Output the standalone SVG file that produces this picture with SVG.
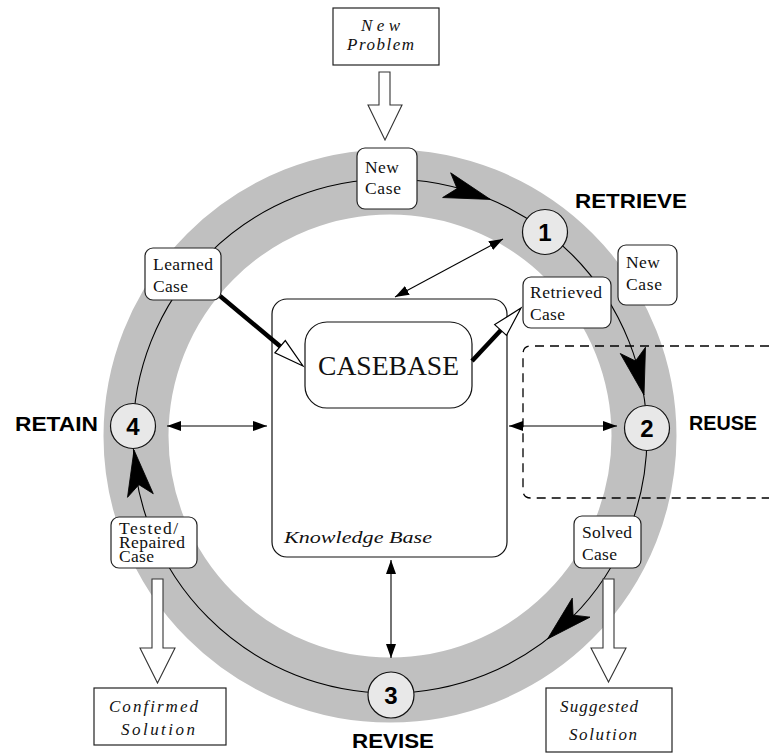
<svg xmlns="http://www.w3.org/2000/svg" width="769" height="753" viewBox="0 0 769 753">
  <style>
    .band { fill: none; stroke: #c0c0c0; stroke-width: 65; }
    .cycle { fill: none; stroke: #000; stroke-width: 1.1; }
    .cyc-head { fill: #000; stroke: #000; stroke-width: 0.8; stroke-linejoin: miter; }
    .case { fill: #fff; stroke: #222; stroke-width: 1.2; }
    .case-text { font-family: "Liberation Serif", "Times New Roman", serif; font-size: 17.5px; fill: #111; }
    .io { fill: #fff; stroke: #222; stroke-width: 1.2; }
    .io-text { font-family: "Liberation Serif", "Times New Roman", serif; font-style: italic; font-size: 17px; fill: #111; }
    .block { fill: #fff; stroke: #333; stroke-width: 1.1; stroke-linejoin: miter; }
    .step { fill: #e8e8e8; stroke: #111; stroke-width: 1.2; }
    .step-num { font-family: "Liberation Sans", Arial, sans-serif; font-weight: bold; font-size: 24px; fill: #000; text-anchor: middle; }
    .phase { font-family: "Liberation Sans", Arial, sans-serif; font-weight: bold; font-size: 21px; fill: #000; }
    .link { fill: none; stroke: #000; stroke-width: 1.1; }
    .thick { fill: none; stroke: #000; stroke-width: 4.5; }
    .hollow { fill: #fff; stroke: #000; stroke-width: 1.2; stroke-linejoin: miter; }
    .kb { fill: #fff; stroke: #111; stroke-width: 1.2; }
    .dashed { fill: none; stroke: #000; stroke-width: 1.3; stroke-dasharray: 9 6; }
  </style>
  <defs>
    <marker id="tip" viewBox="0 0 14 10" refX="14" refY="5" markerWidth="14" markerHeight="10" markerUnits="userSpaceOnUse" orient="auto-start-reverse">
      <path d="M0,0 L14,5 L0,10 Z" fill="#000"/>
    </marker>
    <path id="swept" d="M0,0 L-46,-13 L-35,0 L-46,13 Z"/>
  </defs>

  <!-- reasoning cycle: shaded band and the flow line -->
  <g id="cycle">
    <circle class="band" cx="390" cy="436" r="254"/>
    <circle class="cycle" cx="390" cy="436" r="257"/>
    <use href="#swept" class="cyc-head" transform="translate(490.4,199.4) rotate(18)"/>
    <use href="#swept" class="cyc-head" transform="translate(644,395) rotate(76)"/>
    <use href="#swept" class="cyc-head" transform="translate(547.5,639) rotate(137)"/>
    <use href="#swept" class="cyc-head" transform="translate(134,450) rotate(262)"/>
  </g>

  <!-- reuse region, open to the right -->
  <path class="dashed" d="M769,346 H531 Q523,346 523,354 V490 Q523,498 531,498 H769"/>

  <!-- knowledge base with the case base inside -->
  <g id="knowledge-base">
    <rect class="kb" x="272" y="299" width="235" height="258" rx="15"/>
    <text class="io-text" x="284" y="543" font-size="20" textLength="148" lengthAdjust="spacingAndGlyphs">Knowledge Base</text>
  </g>
  <g id="casebase">
    <rect class="kb" x="305" y="322" width="167" height="86" rx="22"/>
    <text x="318" y="375" font-family="Liberation Serif, Times New Roman, serif" font-size="28" fill="#111" textLength="141" lengthAdjust="spacingAndGlyphs">CASEBASE</text>
  </g>

  <!-- connectors -->
  <g id="connectors">
    <line class="link" x1="395" y1="297" x2="503" y2="239" marker-start="url(#tip)" marker-end="url(#tip)"/>
    <line class="link" x1="167" y1="426" x2="267" y2="426" marker-start="url(#tip)" marker-end="url(#tip)"/>
    <line class="link" x1="509" y1="426" x2="617" y2="426" marker-start="url(#tip)" marker-end="url(#tip)"/>
    <line class="link" x1="391" y1="560" x2="391" y2="658" marker-start="url(#tip)" marker-end="url(#tip)"/>
    <!-- learned case into the case base -->
    <line class="thick" x1="220" y1="296" x2="281" y2="347"/>
    <polygon class="hollow" points="303,366 274.9,352.8 285.3,340.6"/>
    <!-- case base out to the retrieved case -->
    <line class="thick" x1="472" y1="361" x2="501" y2="330"/>
    <polygon class="hollow" points="521,308 506.5,335.4 494.7,324.6"/>
    <!-- block arrows for problem and solutions -->
    <polygon class="block" points="379,72 390,72 390,105 402,105 385,140 368,105 379,105"/>
    <polygon class="block" points="152,579 163,579 163,648 175,648 157.5,683 140,648 152,648"/>
    <polygon class="block" points="603,579 614,579 614,648 626,648 608.5,682 591,648 603,648"/>
  </g>

  <!-- input / output boxes -->
  <g id="new-problem">
    <rect class="io" x="333" y="8" width="106" height="57"/>
    <text class="io-text" x="361" y="31" textLength="39" lengthAdjust="spacing">New</text>
    <text class="io-text" x="347" y="50" textLength="67" lengthAdjust="spacing">Problem</text>
  </g>
  <g id="confirmed-solution">
    <rect class="io" x="94" y="688" width="132" height="57"/>
    <text class="io-text" x="109" y="712" textLength="89" lengthAdjust="spacing">Confirmed</text>
    <text class="io-text" x="121" y="735" textLength="74" lengthAdjust="spacing">Solution</text>
  </g>
  <g id="suggested-solution">
    <rect class="io" x="546" y="688" width="126" height="64"/>
    <text class="io-text" x="560" y="712" textLength="78" lengthAdjust="spacing">Suggested</text>
    <text class="io-text" x="569" y="740" textLength="68" lengthAdjust="spacing">Solution</text>
  </g>

  <!-- case boxes on the cycle -->
  <g id="new-case">
    <rect class="case" x="357" y="148" width="60" height="61" rx="8"/>
    <text class="case-text" x="365" y="173" textLength="34" lengthAdjust="spacing">New</text>
    <text class="case-text" x="365" y="194" textLength="36" lengthAdjust="spacing">Case</text>
  </g>
  <g id="new-case-2">
    <rect class="case" x="618" y="245" width="59" height="60" rx="8"/>
    <text class="case-text" x="626" y="268" textLength="34" lengthAdjust="spacing">New</text>
    <text class="case-text" x="626" y="290" textLength="36" lengthAdjust="spacing">Case</text>
  </g>
  <g id="retrieved-case">
    <rect class="case" x="523" y="277" width="88" height="51" rx="8"/>
    <text class="case-text" x="530" y="298" textLength="72" lengthAdjust="spacing">Retrieved</text>
    <text class="case-text" x="530" y="320" textLength="35" lengthAdjust="spacing">Case</text>
  </g>
  <g id="learned-case">
    <rect class="case" x="145" y="248" width="76" height="52" rx="8"/>
    <text class="case-text" x="153" y="270" textLength="60" lengthAdjust="spacing">Learned</text>
    <text class="case-text" x="153" y="292" textLength="35" lengthAdjust="spacing">Case</text>
  </g>
  <g id="tested-case">
    <rect class="case" x="111" y="517" width="86" height="51" rx="8"/>
    <text class="case-text" x="119" y="534" font-size="14.5" textLength="59" lengthAdjust="spacing">Tested/</text>
    <text class="case-text" x="119" y="548" font-size="14.5" textLength="66" lengthAdjust="spacing">Repaired</text>
    <text class="case-text" x="119" y="562" font-size="14.5" textLength="35" lengthAdjust="spacing">Case</text>
  </g>
  <g id="solved-case">
    <rect class="case" x="574" y="516" width="67" height="52" rx="8"/>
    <text class="case-text" x="582" y="538" textLength="50" lengthAdjust="spacing">Solved</text>
    <text class="case-text" x="582" y="560" textLength="35" lengthAdjust="spacing">Case</text>
  </g>

  <!-- process steps -->
  <g id="step-1">
    <circle class="step" cx="545" cy="232" r="22.5"/>
    <text class="step-num" x="545" y="241">1</text>
  </g>
  <g id="step-2">
    <circle class="step" cx="647" cy="428" r="22.5"/>
    <text class="step-num" x="647" y="437">2</text>
  </g>
  <g id="step-3">
    <circle class="step" cx="391" cy="695" r="23"/>
    <text class="step-num" x="391" y="704">3</text>
  </g>
  <g id="step-4">
    <circle class="step" cx="133" cy="426" r="22.5"/>
    <text class="step-num" x="133" y="435">4</text>
  </g>

  <!-- phase names -->
  <text class="phase" x="575" y="208" textLength="112" lengthAdjust="spacingAndGlyphs">RETRIEVE</text>
  <text class="phase" x="689" y="430" textLength="68" lengthAdjust="spacingAndGlyphs">REUSE</text>
  <text class="phase" x="15" y="431" textLength="83" lengthAdjust="spacingAndGlyphs">RETAIN</text>
  <text class="phase" x="352" y="748" textLength="82" lengthAdjust="spacingAndGlyphs">REVISE</text>
</svg>
